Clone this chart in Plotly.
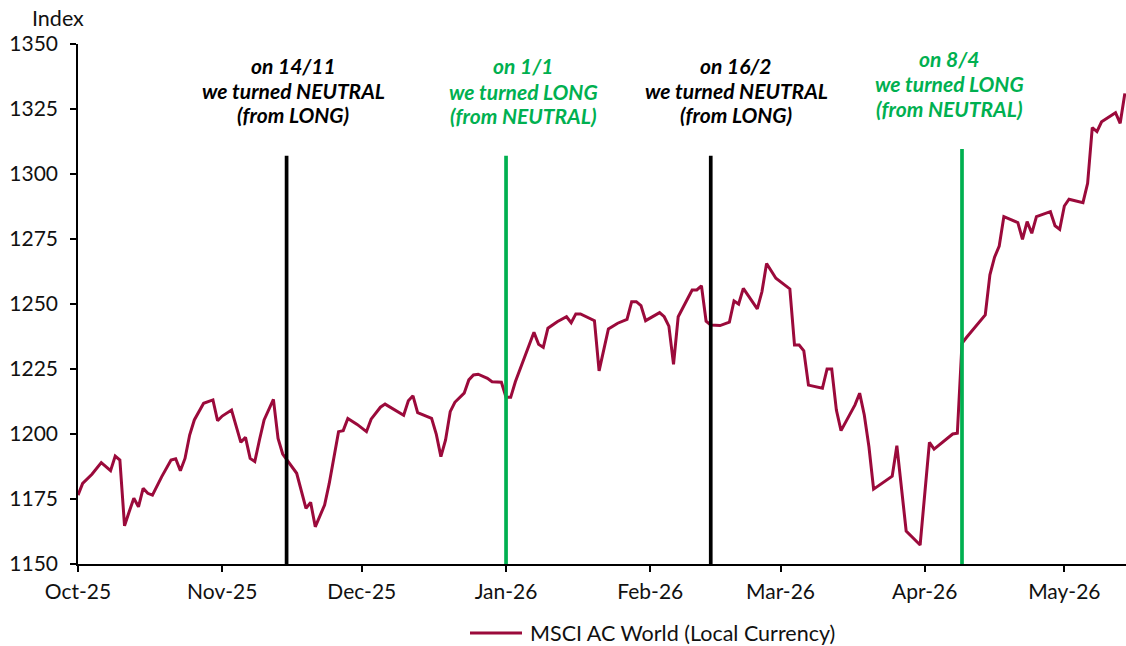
import plotly.graph_objects as go

# ---------------- data ----------------
dates = [
    "2025-10-01", "2025-10-02", "2025-10-04", "2025-10-05", "2025-10-06", "2025-10-08",
    "2025-10-09", "2025-10-10", "2025-10-11", "2025-10-12", "2025-10-13", "2025-10-14",
    "2025-10-15", "2025-10-16", "2025-10-17", "2025-10-19", "2025-10-21", "2025-10-22",
    "2025-10-23", "2025-10-24", "2025-10-25", "2025-10-26", "2025-10-28", "2025-10-30",
    "2025-10-31", "2025-11-01", "2025-11-02", "2025-11-03", "2025-11-05", "2025-11-06",
    "2025-11-07", "2025-11-08", "2025-11-09", "2025-11-10", "2025-11-12", "2025-11-13",
    "2025-11-14", "2025-11-17", "2025-11-19", "2025-11-20", "2025-11-21", "2025-11-23",
    "2025-11-24", "2025-11-25", "2025-11-26", "2025-11-27", "2025-11-28", "2025-11-30",
    "2025-12-02", "2025-12-03", "2025-12-05", "2025-12-06", "2025-12-08", "2025-12-10",
    "2025-12-11", "2025-12-12", "2025-12-13", "2025-12-16", "2025-12-17", "2025-12-18",
    "2025-12-19", "2025-12-20", "2025-12-21", "2025-12-23", "2025-12-24", "2025-12-25",
    "2025-12-26", "2025-12-28", "2025-12-29", "2025-12-31", "2026-01-01", "2026-01-02",
    "2026-01-03", "2026-01-05", "2026-01-07", "2026-01-08", "2026-01-09", "2026-01-10",
    "2026-01-12", "2026-01-14", "2026-01-15", "2026-01-16", "2026-01-17", "2026-01-20",
    "2026-01-21", "2026-01-23", "2026-01-25", "2026-01-27", "2026-01-28", "2026-01-29",
    "2026-01-30", "2026-01-31", "2026-02-03", "2026-02-04", "2026-02-05", "2026-02-06",
    "2026-02-07", "2026-02-10", "2026-02-11", "2026-02-12", "2026-02-13", "2026-02-14",
    "2026-02-16", "2026-02-18", "2026-02-19", "2026-02-20", "2026-02-21", "2026-02-24",
    "2026-02-25", "2026-02-26", "2026-02-28", "2026-03-03", "2026-03-04", "2026-03-05",
    "2026-03-06", "2026-03-07", "2026-03-10", "2026-03-11", "2026-03-12", "2026-03-13",
    "2026-03-14", "2026-03-17", "2026-03-18", "2026-03-19", "2026-03-20", "2026-03-21",
    "2026-03-25", "2026-03-26", "2026-03-27", "2026-03-28", "2026-03-31", "2026-04-02",
    "2026-04-03", "2026-04-06", "2026-04-07", "2026-04-08", "2026-04-09", "2026-04-10",
    "2026-04-11", "2026-04-14", "2026-04-15", "2026-04-16", "2026-04-17", "2026-04-18",
    "2026-04-21", "2026-04-22", "2026-04-23", "2026-04-24", "2026-04-25", "2026-04-28",
    "2026-04-29", "2026-04-30", "2026-05-01", "2026-05-02", "2026-05-05", "2026-05-06",
    "2026-05-07", "2026-05-08", "2026-05-09", "2026-05-12", "2026-05-13", "2026-05-14",
]
msci_acwi = [
    1176.5, 1181.0, 1184.5, 1186.8, 1189.0, 1185.9,
    1191.5, 1190.0, 1164.7, 1170.1, 1175.3, 1172.0,
    1179.1, 1177.2, 1176.5, 1183.6, 1190.0, 1190.5,
    1185.9, 1190.6, 1199.6, 1205.4, 1211.8, 1213.1,
    1205.1, 1206.9, 1208.2, 1209.2, 1196.8, 1198.7,
    1190.6, 1189.4, 1197.7, 1205.4, 1213.3, 1198.3,
    1192.3, 1184.9, 1171.4, 1173.7, 1164.3, 1172.7,
    1181.0, 1190.6, 1200.9, 1201.3, 1206.0, 1203.7,
    1200.9, 1205.7, 1210.3, 1211.5, 1209.5, 1207.2,
    1212.8, 1214.7, 1208.2, 1206.0, 1200.0, 1191.3,
    1197.7, 1208.6, 1212.2, 1215.7, 1220.8, 1222.7,
    1223.0, 1221.4, 1220.1, 1219.9, 1214.1, 1214.1,
    1220.1, 1230.0, 1239.1, 1234.5, 1233.3, 1240.7,
    1243.2, 1245.1, 1242.8, 1246.2, 1246.2, 1243.6,
    1224.3, 1240.4, 1242.6, 1244.1, 1250.9, 1250.9,
    1249.4, 1243.6, 1246.7, 1245.1, 1241.5, 1226.8,
    1245.1, 1255.4, 1255.4, 1257.0, 1243.4, 1241.9,
    1241.7, 1243.0, 1251.2, 1250.0, 1256.0, 1248.1,
    1254.7, 1265.6, 1259.9, 1255.8, 1234.2, 1234.2,
    1232.0, 1218.8, 1217.6, 1225.0, 1225.0, 1209.2,
    1201.3, 1211.2, 1215.7, 1207.3, 1195.1, 1178.8,
    1183.8, 1195.5, 1178.5, 1162.7, 1157.3, 1196.8,
    1194.2, 1198.3, 1200.0, 1200.3, 1234.9, 1237.2,
    1239.3, 1245.8, 1261.2, 1268.0, 1272.3, 1283.6,
    1281.3, 1274.9, 1281.7, 1277.2, 1283.6, 1285.5,
    1280.1, 1278.7, 1287.7, 1290.3, 1289.0, 1296.4,
    1317.8, 1316.3, 1320.1, 1323.6, 1319.5, 1331.0,
]

# position changes (vertical markers)
signal_dates = ["2025-11-14 20:00", "2026-01-01 00:00", "2026-02-14 00:00", "2026-04-09 00:00"]
signal_tops = [1307.0, 1307.0, 1307.0, 1309.6]
signal_colors = ["#000000", "#00B050", "#000000", "#00B050"]
signal_lines = [
    ["on 14/11", "we turned NEUTRAL", "(from LONG)"],
    ["on 1/1", "we turned LONG", "(from NEUTRAL)"],
    ["on 16/2", "we turned NEUTRAL", "(from LONG)"],
    ["on 8/4", "we turned LONG", "(from NEUTRAL)"],
]

series_name = "MSCI AC World (Local Currency)"
y_ticks = [1150, 1175, 1200, 1225, 1250, 1275, 1300, 1325, 1350]

# ---------------- layout geometry ----------------
W, H = 1126, 646
L, R, T, B = 78, 0, 44, 82
PW, PH = W - L - R, H - T - B

def px_x(px):
    return (px - L) / PW

def px_y(py):
    return (H - B - py) / PH

LINE_COLOR = "#9B0A3B"
FONT = "Lato"
TXT = "#111111"

fig = go.Figure()
fig.add_trace(go.Scatter(
    x=dates, y=msci_acwi, mode="lines", name=series_name,
    line=dict(color=LINE_COLOR, width=3), showlegend=False,
))

for d, top, col in zip(signal_dates, signal_tops, signal_colors):
    fig.add_shape(type="line", xref="x", yref="y", x0=d, x1=d, y0=1150, y1=top,
                  line=dict(color=col, width=3.7), layer="above")

# annotation text blocks (centre x and line centres in pixels)
text_x = [293, 523, 736, 949]
text_y = [[66, 90, 115], [66, 91, 116], [66, 90, 115], [58, 84, 108]]
for cx, ys, lines, col in zip(text_x, text_y, signal_lines, signal_colors):
    for cy, line in zip(ys, lines):
        fig.add_annotation(
            x=px_x(cx), y=px_y(cy), xref="paper", yref="paper",
            text=line, showarrow=False, align="center",
            xanchor="center", yanchor="middle",
            font=dict(family=FONT, size=21, color=col, weight="bold", style="italic"),
        )

fig.add_annotation(
    x=px_x(58), y=px_y(18), xref="paper", yref="paper", text="Index",
    showarrow=False, xanchor="center", yanchor="middle",
    font=dict(family=FONT, size=21.5, color=TXT),
)

# legend (drawn as sample line + label below the plot)
fig.add_shape(type="line", xref="paper", yref="paper",
              x0=px_x(470), x1=px_x(522), y0=px_y(633), y1=px_y(633),
              line=dict(color=LINE_COLOR, width=3))
fig.add_annotation(
    x=px_x(528), y=px_y(633), xref="paper", yref="paper", text=series_name,
    showarrow=False, xanchor="left", yanchor="middle",
    font=dict(family=FONT, size=21.5, color=TXT),
)

fig.update_layout(
    width=W, height=H,
    margin=dict(l=L, r=R, t=T, b=B, autoexpand=False),
    paper_bgcolor="white", plot_bgcolor="white",
    font=dict(family=FONT, size=21, color=TXT),
    showlegend=False,
    xaxis=dict(
        type="date", range=["2025-10-01", "2026-05-14 06:00"],
        tick0="2025-10-01", dtick="M1", tickformat="%b-%y",
        showgrid=False, zeroline=False,
        showline=True, linecolor="black", linewidth=1.5,
        ticks="outside", ticklen=6, tickwidth=1.5, tickcolor="black",
        ticklabelstandoff=2, automargin=False,
        tickfont=dict(family=FONT, size=21, color=TXT),
    ),
    yaxis=dict(
        range=[1150, 1350], tickvals=y_ticks,
        showgrid=False, zeroline=False,
        showline=True, linecolor="black", linewidth=1.5,
        ticks="outside", ticklen=6, tickwidth=1.5, tickcolor="black",
        ticklabelstandoff=8, automargin=False,
        tickfont=dict(family=FONT, size=21, color=TXT),
    ),
)

fig.write_html(
    "out.html",
    config={"displayModeBar": False},
    post_script="document.body.style.margin='0px';document.body.style.overflow='hidden';",
)
